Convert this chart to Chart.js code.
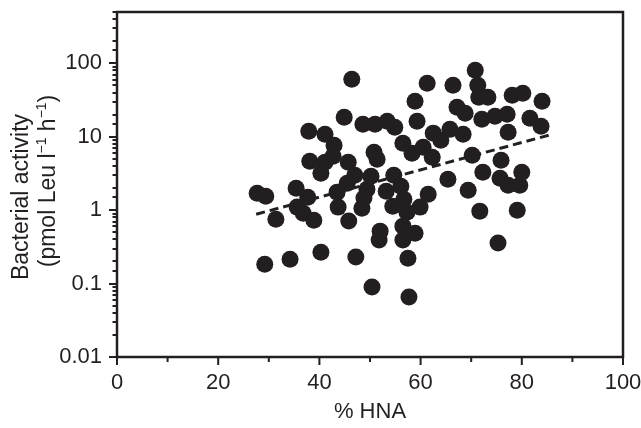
<!DOCTYPE html>
<html>
<head>
<meta charset="utf-8">
<script src="https://cdn.jsdelivr.net/npm/chart.js@4/dist/chart.umd.min.js"></script>
<style>
  html, body { margin: 0; padding: 0; background: #ffffff; }
  #wrap { width: 641px; height: 428px; }
</style>
</head>
<body>
<div id="wrap"><canvas id="c" width="641" height="428"></canvas></div>
<script>
// % HNA of each sample
const hna = [
  27.7,29.4,31.4,29.2,34.2,35.4,35.6,36.8,37.7,38.9,
  37.9,38.1,40.3,41.1,42.9,41.1,40.3,42.7,43.5,43.7,
  46.4,44.9,45.7,47.0,45.5,45.8,47.2,50.4,48.6,51.0,
  53.4,54.9,58.9,59.3,50.8,51.4,50.2,49.4,48.8,48.4,
  54.7,53.2,56.1,56.7,54.5,57.3,59.9,52.0,51.8,56.5,
  56.5,58.9,57.5,57.7,56.5,58.3,60.5,61.5,61.3,66.4,
  70.8,71.3,71.5,73.3,78.1,80.2,84.0,67.2,68.8,72.1,
  74.7,77.1,81.6,83.8,77.3,62.5,64.0,65.8,68.4,62.3,
  70.2,75.9,72.3,65.4,69.4,75.7,77.3,80.0,79.6,71.7,
  79.1,75.3
];
// Bacterial activity (pmol Leu l-1 h-1)
const activity = [
  1.70,1.55,0.75,0.184,0.215,1.99,1.10,0.91,1.50,0.73,
  11.9,4.64,0.268,10.8,7.66,4.50,3.19,5.43,1.76,1.10,
  60.6,18.4,4.50,2.99,2.33,0.71,0.23,0.0896,14.8,14.8,
  16.3,13.5,30.4,16.3,6.15,4.94,2.90,1.93,1.46,1.06,
  2.99,1.81,2.12,1.41,1.13,0.94,1.10,0.518,0.391,0.606,
  0.391,0.486,0.222,0.0655,8.16,5.97,7.19,1.65,53.5,50.2,
  80.3,50.2,34.5,34.5,36.7,39.1,30.4,25.2,20.9,17.3,
  19.0,20.2,17.9,13.9,11.5,11.2,8.96,12.6,10.8,5.26,
  5.60,4.79,3.29,2.64,1.87,2.73,2.19,3.29,2.19,0.97,
  1.0,0.356
];
// Regression line end points
const trendHna = [27.5, 86];
const trendActivity = [0.88, 10.8];
// Axis ticks and titles
const xMajorTicks = [0, 20, 40, 60, 80, 100];
const xMinorTicks = [10, 30, 50, 70, 90];
const yTitleLine1 = 'Bacterial activity';
// second line as [text, isSuperscript] pieces
const yTitleLine2 = [['(pmol Leu l', false], ['\u22121', true], [' h', false], ['\u22121', true], [')', false]];
const xTitle = '% HNA';

const INK = '#231f20';
const FONT = "'Liberation Sans', Arial, Helvetica, sans-serif";
const TITLE_PX = 23;
const SUP_PX = 14;

const isPow10 = v => Math.abs(Math.log10(v) - Math.round(Math.log10(v))) < 1e-6;

const framePlugin = {
  id: 'frameTicks',
  afterDraw(chart) {
    const ctx = chart.ctx;
    const a = chart.chartArea;
    const xs = chart.scales.x, ys = chart.scales.y;
    ctx.save();
    ctx.strokeStyle = INK;
    ctx.lineWidth = 2.5;
    ctx.strokeRect(a.left, a.top, a.right - a.left, a.bottom - a.top);
    ctx.lineWidth = 2;
    ctx.beginPath();
    ys.ticks.forEach(t => {
      const py = Math.round(ys.getPixelForValue(t.value));
      const len = isPow10(t.value) ? 8 : 4.5;
      ctx.moveTo(a.left - len, py);
      ctx.lineTo(a.left, py);
    });
    xMajorTicks.forEach(v => {
      const px = xs.getPixelForValue(v);
      ctx.moveTo(px, a.bottom);
      ctx.lineTo(px, a.bottom + 8);
    });
    xMinorTicks.forEach(v => {
      const px = xs.getPixelForValue(v);
      ctx.moveTo(px, a.bottom);
      ctx.lineTo(px, a.bottom + 5);
    });
    ctx.stroke();

    // y-axis title (two rotated lines)
    ctx.fillStyle = INK;
    ctx.textBaseline = 'middle';
    // line 1
    ctx.save();
    ctx.font = TITLE_PX + 'px ' + FONT;
    ctx.textAlign = 'center';
    ctx.translate(22, 197);
    ctx.rotate(-Math.PI / 2);
    ctx.fillText(yTitleLine1, 0, 0);
    ctx.restore();
    // line 2 with superscripts
    ctx.save();
    ctx.translate(49, 181);
    ctx.rotate(-Math.PI / 2);
    ctx.textAlign = 'left';
    const fontOf = sup => (sup ? SUP_PX : TITLE_PX) + 'px ' + FONT;
    let total = 0;
    yTitleLine2.forEach(([txt, sup]) => { ctx.font = fontOf(sup); total += ctx.measureText(txt).width; });
    let cx = -total / 2;
    yTitleLine2.forEach(([txt, sup]) => {
      ctx.font = fontOf(sup);
      ctx.fillText(txt, cx, sup ? -7 : 0);
      cx += ctx.measureText(txt).width;
    });
    ctx.restore();
    ctx.restore();
  }
};

const points = hna.map((x, i) => ({ x: x, y: activity[i] }));
const trend = trendHna.map((x, i) => ({ x: x, y: trendActivity[i] }));

new Chart(document.getElementById('c'), {
  type: 'scatter',
  data: {
    datasets: [
      {
        label: 'samples',
        data: points,
        backgroundColor: INK,
        borderColor: INK,
        borderWidth: 0,
        pointRadius: 8.5,
        pointHoverRadius: 8.5,
        order: 1
      },
      {
        type: 'line',
        label: 'fit',
        data: trend,
        borderColor: INK,
        borderWidth: 3,
        borderDash: [9, 5],
        pointRadius: 0,
        fill: false,
        tension: 0,
        order: 2
      }
    ]
  },
  options: {
    responsive: false,
    animation: false,
    events: [],
    layout: { padding: { top: 12, right: 18, left: 0, bottom: 0 } },
    plugins: { legend: { display: false }, tooltip: { enabled: false } },
    scales: {
      x: {
        type: 'linear',
        min: 0, max: 100,
        afterFit: s => { s.height = 71; s.paddingLeft = 0; s.paddingRight = 0; },
        grid: { display: true, drawOnChartArea: false, drawTicks: true, tickLength: 8, color: 'rgba(0,0,0,0)', tickColor: 'rgba(0,0,0,0)' },
        border: { display: false },
        ticks: {
          stepSize: 20,
          padding: 5,
          color: INK,
          font: { family: FONT, size: 22 },
          maxRotation: 0,
          autoSkip: false
        },
        title: {
          display: true,
          text: xTitle,
          color: INK,
          font: { family: FONT, size: 22 },
          padding: { top: 0, bottom: 3 }
        }
      },
      y: {
        type: 'logarithmic',
        min: 0.01, max: 500,
        afterFit: s => { s.width = 117; s.paddingTop = 0; s.paddingBottom = 0; },
        grid: { display: true, drawOnChartArea: false, drawTicks: true, tickLength: 8, color: 'rgba(0,0,0,0)', tickColor: 'rgba(0,0,0,0)' },
        border: { display: false },
        ticks: {
          padding: 7,
          color: INK,
          autoSkip: false,
          font: { family: FONT, size: 22 },
          callback: v => isPow10(v) ? String(Number(v.toPrecision(3))) : ''
        },
        title: { display: false }
      }
    }
  },
  plugins: [framePlugin]
});
</script>
</body>
</html>
